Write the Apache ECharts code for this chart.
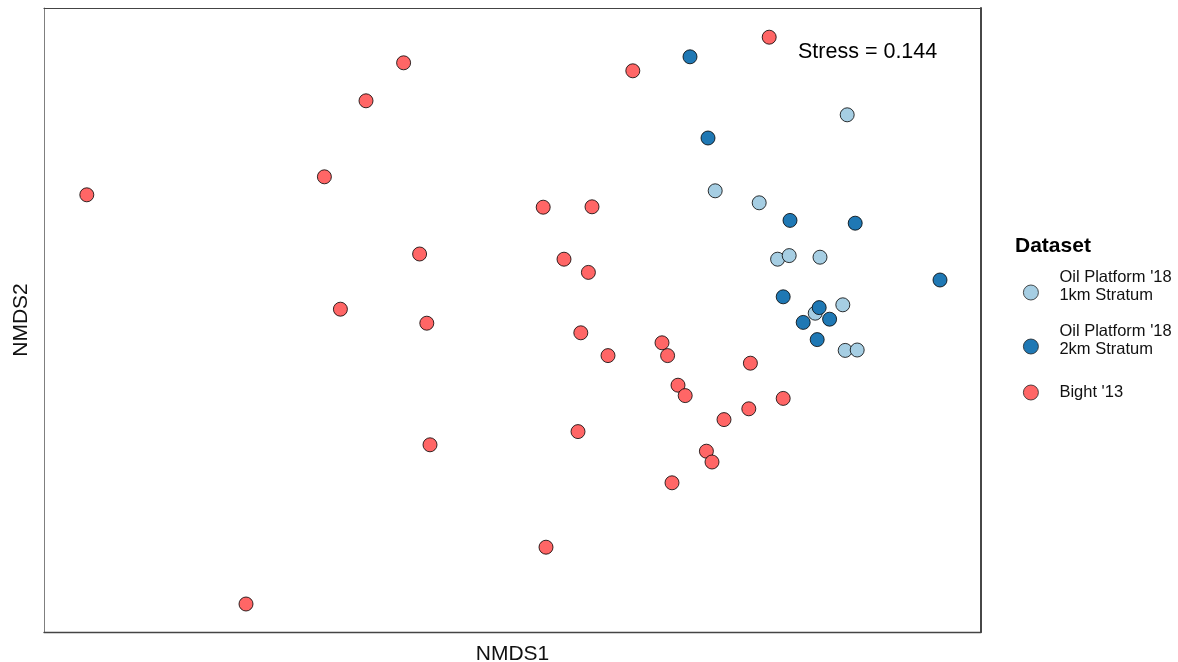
<!DOCTYPE html>
<html>
<head>
<meta charset="utf-8">
<script src="https://cdn.jsdelivr.net/npm/echarts@6/dist/echarts.min.js"></script>
<style>
  html, body { margin: 0; padding: 0; background: #ffffff; }
  #chart { width: 1178px; height: 662px; }
</style>
</head>
<body>
<div id="chart"></div>
<script>
// Series names (legend)
const seriesNames = ["Oil Platform '18\n1km Stratum", "Oil Platform '18\n2km Stratum", "Bight '13"];
const seriesColors = ['#a6cee3', '#1f78b4', '#ff6666'];

// NMDS coordinates [NMDS1, NMDS2]
const platform1km = [
  [0.838, 0.513], [0.508, 0.323], [0.618, 0.293], [0.664, 0.152], [0.693, 0.161],
  [0.770, 0.157], [0.827, 0.038], [0.758, 0.017], [0.833, -0.076], [0.863, -0.075]
];
const platform2km = [
  [0.445, 0.658], [0.490, 0.455], [0.695, 0.249], [0.858, 0.242], [1.070, 0.100],
  [0.678, 0.058], [0.768, 0.031], [0.728, -0.006], [0.794, 0.002], [0.763, -0.049]
];
const bight13 = [
  [0.643, 0.707], [-0.271, 0.643], [0.302, 0.623], [-0.365, 0.548], [-0.469, 0.358],
  [-1.063, 0.313], [0.078, 0.282], [0.200, 0.283], [-0.231, 0.165], [0.130, 0.152],
  [0.191, 0.119], [-0.429, 0.027], [-0.213, -0.008], [0.172, -0.032], [0.240, -0.089],
  [0.375, -0.057], [0.389, -0.089], [0.596, -0.108], [0.415, -0.163], [0.433, -0.189],
  [0.678, -0.196], [0.592, -0.222], [0.530, -0.249], [0.165, -0.279], [-0.205, -0.312],
  [0.486, -0.328], [0.500, -0.355], [0.400, -0.407], [0.085, -0.568], [-0.665, -0.710]
];
const stressLabel = 'Stress = 0.144';
const legendTitle = 'Dataset';

const seriesData = [platform1km, platform2km, bight13];
const FONT = '"Liberation Sans", Arial, sans-serif';
const legendTops = [269, 323, 384];
const X_RANGE = [-1.17, 1.1725];
const Y_RANGE = [-0.78, 0.78];

function makeLegend(name, top) {
  return {
    orient: 'vertical',
    left: 1023, top: top, padding: 0,
    itemWidth: 15, itemHeight: 15,
    icon: 'circle',
    data: [name],
    itemStyle: { borderColor: '#222', borderWidth: 0.8 },
    formatter: function (n) {
      if (n.indexOf('\n') >= 0) {
        return n.split('\n').map(function (l) { return '{a|' + l + '}'; }).join('\n') + '\n{b| }';
      }
      return '{a|' + n + '}';
    },
    textStyle: {
      fontSize: 16.5, color: '#111', fontFamily: FONT, padding: [0, 0, 0, 16],
      rich: {
        a: { fontSize: 16.5, lineHeight: 18, color: '#111', fontFamily: FONT },
        b: { fontSize: 2, lineHeight: 12 }
      }
    }
  };
}

function frameAxis(base, pos, color, width) {
  return Object.assign({
    type: 'value', position: pos,
    axisLine: { show: true, onZero: false, lineStyle: { color: color, width: width } },
    axisTick: { show: false }, axisLabel: { show: false }, splitLine: { show: false }
  }, base);
}

const chart = echarts.init(document.getElementById('chart'), null, { renderer: 'canvas' });
chart.setOption({
  backgroundColor: '#ffffff',
  animation: false,
  textStyle: { fontFamily: FONT },
  grid: {
    left: 44, right: 197, top: 8, bottom: 30,
    outerBoundsMode: 'none',
    show: false
  },
  xAxis: [
    frameAxis({
      min: X_RANGE[0], max: X_RANGE[1],
      name: 'NMDS1', nameLocation: 'middle', nameGap: 12,
      nameTextStyle: { fontSize: 21, color: '#111', fontFamily: FONT, verticalAlign: 'top' }
    }, 'bottom', '#444444', 1.4),
    frameAxis({ min: X_RANGE[0], max: X_RANGE[1] }, 'top', '#444444', 1.2)
  ],
  yAxis: [
    frameAxis({
      min: Y_RANGE[0], max: Y_RANGE[1],
      name: 'NMDS2', nameLocation: 'middle', nameGap: 12,
      nameTextStyle: { fontSize: 21, color: '#111', fontFamily: FONT }
    }, 'left', '#7f7f7f', 1),
    frameAxis({ min: Y_RANGE[0], max: Y_RANGE[1] }, 'right', '#333333', 1.8)
  ],
  legend: seriesNames.map((n, i) => makeLegend(n, legendTops[i])),
  graphic: [
    {
      type: 'text', left: 1015, top: 236,
      style: { text: legendTitle, font: 'bold 21px ' + FONT, fill: '#000' }
    },
    {
      type: 'text', left: 798, top: 41,
      style: { text: stressLabel, font: '21.5px ' + FONT, fill: '#000' }
    }
  ],
  series: seriesNames.map((name, i) => ({
    name: name,
    type: 'scatter',
    xAxisIndex: 0, yAxisIndex: 0,
    data: seriesData[i],
    symbol: 'circle',
    symbolSize: 14,
    itemStyle: { color: seriesColors[i], borderColor: '#000', borderWidth: 0.8, opacity: 1 },
    emphasis: { disabled: true }
  }))
});
</script>
</body>
</html>
